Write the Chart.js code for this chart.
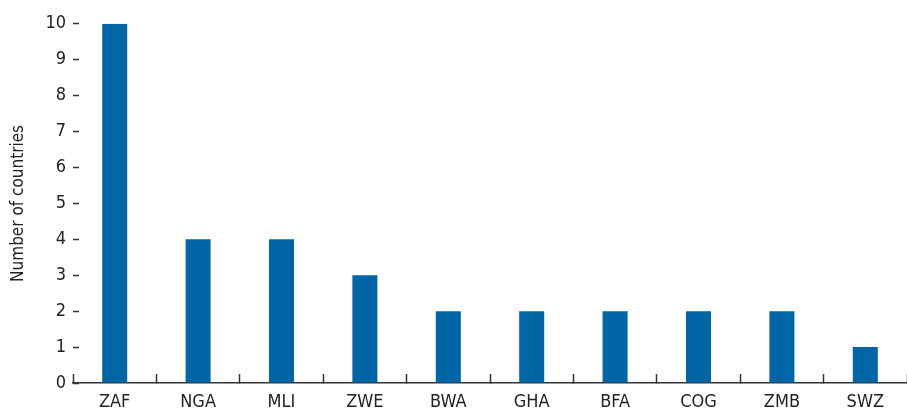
<!DOCTYPE html>
<html>
<head>
<meta charset="utf-8">
<script src="https://cdn.jsdelivr.net/npm/chart.js@4/dist/chart.umd.min.js"></script>
<style>
html,body{margin:0;padding:0;background:#fff;}
#wrap{width:907px;height:410px;position:relative;}
</style>
</head>
<body>
<div id="wrap"><canvas id="c"></canvas></div>
<script>
const categories = ['ZAF','NGA','MLI','ZWE','BWA','GHA','BFA','COG','ZMB','SWZ'];
const countries = [10, 4, 4, 3, 2, 2, 2, 2, 2, 1];
const yTicks = [0,1,2,3,4,5,6,7,8,9,10];
const yTitle = 'Number of countries';

const FONT = "'DejaVu Sans Condensed', 'Liberation Sans Narrow', sans-serif";

new Chart(document.getElementById('c'), {
  type: 'bar',
  data: {
    labels: categories,
    datasets: [{
      data: countries,
      backgroundColor: '#0066a6',
      borderWidth: 0,
      barPercentage: 0.3,
      categoryPercentage: 1.0
    }]
  },
  options: {
    responsive: true,
    maintainAspectRatio: false,
    animation: false,
    layout: { padding: { top: 12, right: 0, bottom: 0, left: 0 } },
    plugins: { legend: { display: false }, tooltip: { enabled: false } },
    scales: {
      x: {
        afterFit: (s) => { s.height = 27; },
        grid: {
          offset: true,
          drawOnChartArea: false,
          drawTicks: true,
          tickLength: -9,
          tickColor: '#333',
          tickWidth: 1.5
        },
        border: { display: true, color: '#333', width: 1.5 },
        ticks: {
          color: '#222',
          font: { family: FONT, size: 18 },
          padding: 18,
          maxRotation: 0,
          autoSkip: false
        }
      },
      y: {
        min: 0,
        max: 10,
        afterBuildTicks: (s) => { s.ticks = yTicks.map(v => ({ value: v })); },
        afterFit: (s) => { s.width = 73; },
        grid: {
          drawOnChartArea: false,
          drawTicks: true,
          tickLength: -6,
          tickColor: '#333',
          tickWidth: 1.5
        },
        border: { display: false },
        ticks: {
          color: '#222',
          font: { family: FONT, size: 18 },
          padding: 13
        },
        title: {
          display: true,
          text: yTitle,
          color: '#222',
          font: { family: FONT, size: 17 },
          padding: { top: 8, bottom: 0 }
        }
      }
    }
  }
});
</script>
</body>
</html>
